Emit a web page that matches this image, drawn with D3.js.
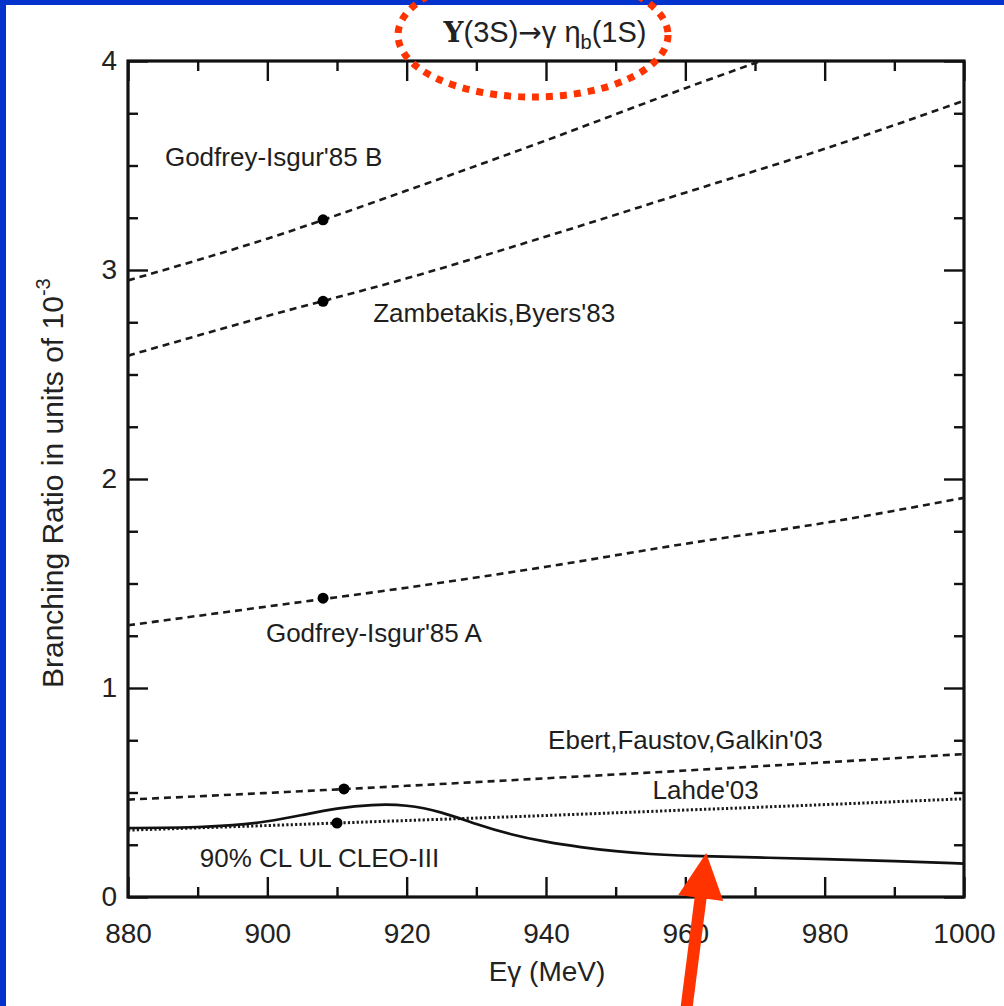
<!DOCTYPE html>
<html><head><meta charset="utf-8">
<script src="https://cdn.jsdelivr.net/npm/d3@7"></script>
<style>body{margin:0;background:#fff}svg{display:block}</style>
</head><body>
<svg id="c" width="1004" height="1006"></svg>
<script>
// ---- data ----
const xTickValues = [880, 900, 920, 940, 960, 980, 1000];
const xMinorValues = [890, 910, 930, 950, 970, 990];
const yTickValues = [0, 1, 2, 3, 4];
const yMinorValues = [0.25, 0.5, 0.75, 1.25, 1.5, 1.75, 2.25, 2.5, 2.75, 3.25, 3.5, 3.75];

const energies = [880, 900, 920, 940, 960, 980, 1000];
const godfreyIsgurB = [2.95, 3.15, 3.38, 3.62, 3.87, 4.11, 4.36];
const zambetakisByers = [2.59, 2.78, 2.96, 3.16, 3.37, 3.58, 3.81];
const godfreyIsgurA = [1.30, 1.39, 1.48, 1.58, 1.69, 1.79, 1.91];
const ebertFaustovGalkin = [0.466, 0.498, 0.532, 0.568, 0.605, 0.644, 0.684];
const lahde = [0.320, 0.342, 0.366, 0.390, 0.416, 0.442, 0.470];

const cleoEnergies = [880, 885, 890, 895, 900, 905, 910, 915, 920, 925, 930, 935, 940, 945, 950, 955, 960, 970, 980, 990, 1000];
const cleoUL = [0.330, 0.331, 0.334, 0.342, 0.360, 0.392, 0.425, 0.443, 0.442, 0.408, 0.348, 0.298, 0.263, 0.238, 0.218, 0.205, 0.197, 0.189, 0.182, 0.172, 0.160];

const markerEnergies = [908, 908, 908, 911, 910];
const markerValues = [3.24, 2.85, 1.43, 0.517, 0.354];

const labelTexts = ["Godfrey-Isgur'85 B", "Zambetakis,Byers'83", "Godfrey-Isgur'85 A", "Ebert,Faustov,Galkin'03", "Lahde'03", "90% CL UL CLEO-III"];
const labelE = [885.3, 915.2, 899.8, 940.3, 955.3, 890.3];
const labelBR = [3.50, 2.75, 1.22, 0.71, 0.47, 0.143];

// ---- drawing ----
const svg = d3.select("#c");
const x = d3.scaleLinear().domain([880, 1000]).range([128, 964]);
const y = d3.scaleLinear().domain([0, 4]).range([897, 61]);
const INK = "#111";
const RED = "#ff3300";

svg.append("rect").attr("width", 1004).attr("height", 1006).attr("fill", "#fff");
// blue slide border (left + top)
svg.append("rect").attr("x", 0).attr("y", 0).attr("width", 1004).attr("height", 5).attr("fill", "#0432cc");
svg.append("rect").attr("x", 0).attr("y", 0).attr("width", 6).attr("height", 1006).attr("fill", "#0432cc");

svg.append("clipPath").attr("id", "plotclip").append("rect")
  .attr("x", x(880)).attr("y", y(4)).attr("width", x(1000) - x(880)).attr("height", y(0) - y(4));

function styleAxis(g) {
  g.select(".domain").remove();
  g.selectAll(".tick line").attr("stroke", INK).attr("stroke-width", 2.4);
  g.selectAll(".tick text").attr("fill", "#222").attr("font-family", "Liberation Sans, Arial, sans-serif").attr("font-size", 28);
}

// bottom
svg.append("g").attr("transform", `translate(0,${y(0)})`)
  .call(d3.axisBottom(x).tickValues(xTickValues).tickSizeInner(-20).tickSizeOuter(0).tickPadding(26).tickFormat(d3.format("d")))
  .call(styleAxis);
svg.append("g").attr("transform", `translate(0,${y(0)})`)
  .call(d3.axisBottom(x).tickValues(xMinorValues).tickSizeInner(-10).tickSizeOuter(0).tickFormat(""))
  .call(styleAxis);
// top
svg.append("g").attr("transform", `translate(0,${y(4)})`)
  .call(d3.axisTop(x).tickValues(xTickValues).tickSizeInner(-20).tickSizeOuter(0).tickFormat(""))
  .call(styleAxis);
svg.append("g").attr("transform", `translate(0,${y(4)})`)
  .call(d3.axisTop(x).tickValues(xMinorValues).tickSizeInner(-10).tickSizeOuter(0).tickFormat(""))
  .call(styleAxis);
// left
svg.append("g").attr("transform", `translate(${x(880)},0)`)
  .call(d3.axisLeft(y).tickValues(yTickValues).tickSizeInner(-20).tickSizeOuter(0).tickPadding(11).tickFormat(d3.format("d")))
  .call(styleAxis);
svg.append("g").attr("transform", `translate(${x(880)},0)`)
  .call(d3.axisLeft(y).tickValues(yMinorValues).tickSizeInner(-10).tickSizeOuter(0).tickFormat(""))
  .call(styleAxis);
// right
svg.append("g").attr("transform", `translate(${x(1000)},0)`)
  .call(d3.axisRight(y).tickValues(yTickValues).tickSizeInner(-20).tickSizeOuter(0).tickFormat(""))
  .call(styleAxis);
svg.append("g").attr("transform", `translate(${x(1000)},0)`)
  .call(d3.axisRight(y).tickValues(yMinorValues).tickSizeInner(-10).tickSizeOuter(0).tickFormat(""))
  .call(styleAxis);

// frame
svg.append("rect").attr("x", x(880)).attr("y", y(4)).attr("width", x(1000) - x(880)).attr("height", y(0) - y(4))
  .attr("fill", "none").attr("stroke", INK).attr("stroke-width", 3.2);

// curves
const plot = svg.append("g").attr("clip-path", "url(#plotclip)");
const smooth = d3.line().x(d => x(d[0])).y(d => y(d[1])).curve(d3.curveMonotoneX);
const series = [
  { v: godfreyIsgurB, dash: "7 5", w: 2.6 },
  { v: zambetakisByers, dash: "7 5", w: 2.6 },
  { v: godfreyIsgurA, dash: "7 5", w: 2.6 },
  { v: ebertFaustovGalkin, dash: "7 5", w: 2.6 },
  { v: lahde, dash: "2.2 2.2", w: 3 }
];
series.forEach(s => {
  plot.append("path").datum(energies.map((e, i) => [e, s.v[i]]))
    .attr("d", smooth).attr("fill", "none").attr("stroke", "#1a1a1a")
    .attr("stroke-width", s.w).attr("stroke-dasharray", s.dash);
});
plot.append("path").datum(cleoEnergies.map((e, i) => [e, cleoUL[i]]))
  .attr("d", d3.line().x(d => x(d[0])).y(d => y(d[1])).curve(d3.curveBasis))
  .attr("fill", "none").attr("stroke", "#111").attr("stroke-width", 2.7);

plot.selectAll("circle.m").data(markerEnergies.map((e, i) => [e, markerValues[i]])).enter()
  .append("circle").attr("cx", d => x(d[0])).attr("cy", d => y(d[1])).attr("r", 5.5).attr("fill", "#000");

// labels
svg.selectAll("text.lab").data(labelTexts).enter().append("text")
  .attr("x", (d, i) => x(labelE[i])).attr("y", (d, i) => y(labelBR[i]))
  .attr("font-family", "Liberation Sans, Arial, sans-serif").attr("font-size", 26).attr("fill", "#1e1e1e")
  .text(d => d);

// axis titles
const yl = svg.append("text").attr("transform", "translate(63,688) rotate(-90)")
  .attr("font-family", "Liberation Sans, Arial, sans-serif").attr("font-size", 30).attr("fill", "#222");
yl.append("tspan").text("Branching Ratio in units of 10");
yl.append("tspan").attr("font-size", 20).attr("dy", -13).text("-3");

svg.append("text").attr("x", 547).attr("y", 981).attr("text-anchor", "middle")
  .attr("font-family", "Liberation Sans, Arial, sans-serif").attr("font-size", 28).attr("fill", "#222")
  .text("Eγ (MeV)");

// title
const t = svg.append("text").attr("x", 545).attr("y", 42).attr("text-anchor", "middle")
  .attr("font-family", "Liberation Sans, Arial, sans-serif").attr("font-size", 29).attr("fill", "#222");
t.append("tspan").attr("font-family", "DejaVu Serif, Liberation Serif, serif").attr("font-size", 28).attr("font-weight", "bold").text("Υ");
t.append("tspan").text("(3S)");
t.append("tspan").attr("font-family", "DejaVu Sans, sans-serif").attr("font-size", 28).text("→");
t.append("tspan").text("γ η");
t.append("tspan").attr("font-size", 20).attr("dy", 7).text("b");
t.append("tspan").attr("dy", -7).text("(1S)");

// red annotations
svg.append("ellipse").attr("cx", 533).attr("cy", 35).attr("rx", 135).attr("ry", 62)
  .attr("fill", "none").attr("stroke", RED).attr("stroke-width", 7).attr("stroke-dasharray", "7 7");

const tipX = x(963), tipY = y(0.21);
svg.append("line").attr("x1", 686).attr("y1", 1012).attr("x2", tipX - 5).attr("y2", tipY + 40)
  .attr("stroke", RED).attr("stroke-width", 12);
svg.append("path").attr("d", `M${tipX},${tipY} L${tipX - 28},${tipY + 42} L${tipX + 17},${tipY + 48} Z`).attr("fill", RED);
</script>
</body></html>
